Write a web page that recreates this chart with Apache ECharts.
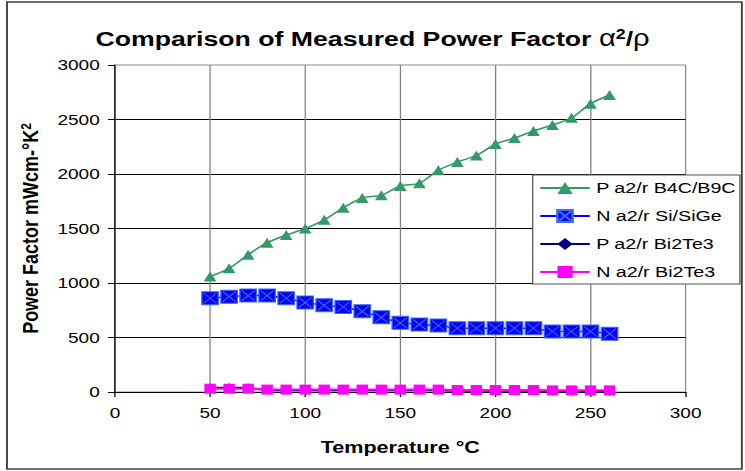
<!DOCTYPE html>
<html>
<head>
<meta charset="utf-8">
<script src="https://cdn.jsdelivr.net/npm/echarts@6/dist/echarts.min.js"></script>
<style>
  html, body { margin: 0; padding: 0; background: #fff; overflow: hidden; }
  /* the source picture is an Excel chart stretched sideways, so draw narrow and stretch */
  #power { width: 587px; height: 471px; transform: scaleX(1.2692); transform-origin: 0 0; }
</style>
</head>
<body>
<div id="power"></div>
<script>
// temperatures in °C
const temps = [50, 60, 70, 80, 90, 100, 110, 120, 130, 140, 150, 160, 170, 180, 190, 200, 210, 220, 230, 240, 250, 260]
// power factor, mW/cm-K^2
const pB4C = [1060, 1135, 1260, 1370, 1440, 1500, 1580, 1690, 1780, 1805, 1890, 1915, 2035, 2110, 2170, 2275, 2330, 2395, 2450, 2515, 2645, 2725]
const nSiGe = [860, 875, 885, 885, 860, 820, 795, 780, 740, 685, 635, 620, 610, 585, 585, 585, 585, 585, 555, 555, 555, 535]
const pBi2Te3 = [40, 40, 40, 15, 15, 15, 15, 15, 15, 15, 15, 15, 15, 12, 12, 12, 12, 12, 8, 8, 8, 8]
const nBi2Te3 = [30, 30, 30, 22, 22, 22, 22, 22, 22, 22, 22, 22, 22, 18, 18, 18, 18, 18, 15, 15, 15, 15]
const names = ['P a2/r B4C/B9C', 'N a2/r Si/SiGe', 'P a2/r Bi2Te3', 'N a2/r Bi2Te3']
const xTicks = [0, 300, 50]
const yTicks = [0, 3000, 500]

const font = 'Liberation Sans, Arial, sans-serif'

function pairs (vals) {
  return temps.map((t, i) => [t, vals[i]])
}

const myChart = echarts.init(document.getElementById('power'), null, { renderer: 'svg' })

const option = {
  animation: false,
  backgroundColor: '#fff',
  title: {
    left: 'center',
    top: 22,
    text: 'Comparison of Measured Power Factor {g|α}{s|2}{b|/}{g|ρ}',
    textStyle: {
      fontFamily: font,
      fontSize: 21,
      fontWeight: 'bold',
      color: '#000',
      rich: {
        g: { fontFamily: font, fontSize: 23, fontWeight: 'normal', color: '#000' },
        b: { fontFamily: font, fontSize: 21, fontWeight: 'bold', color: '#000' },
        s: { fontFamily: font, fontSize: 14, fontWeight: 'bold', color: '#000', verticalAlign: 'top' }
      }
    }
  },
  legend: {
    orient: 'vertical',
    left: 419.7,
    top: 175,
    itemWidth: 39,
    itemHeight: 15,
    itemGap: 12,
    padding: [5, 3, 4, 5],
    backgroundColor: '#fff',
    borderColor: '#555',
    borderWidth: 1,
    textStyle: { fontFamily: font, fontSize: 15.5, color: '#000' },
    data: names
  },
  grid: {
    left: 90.6,
    right: 46.8,
    top: 65,
    bottom: 79,
    show: true,
    borderColor: '#8c8c8c',
    borderWidth: 1
  },
  xAxis: {
    type: 'value',
    min: xTicks[0],
    max: xTicks[1],
    interval: xTicks[2],
    name: 'Temperature °C',
    nameLocation: 'middle',
    nameGap: 46,
    nameTextStyle: { fontFamily: font, fontSize: 17, fontWeight: 'bold', color: '#000' },
    axisLine: { show: true, onZero: false, lineStyle: { color: '#000', width: 1 } },
    axisTick: { show: true, length: 5, lineStyle: { color: '#000' } },
    axisLabel: { fontFamily: font, fontSize: 15, color: '#000', margin: 13 },
    splitLine: { show: true, showMinLine: false, showMaxLine: false, lineStyle: { color: '#808080', width: 1 } }
  },
  yAxis: {
    type: 'value',
    min: yTicks[0],
    max: yTicks[1],
    interval: yTicks[2],
    name: 'Power Factor mWcm-°K{s|2}',
    nameLocation: 'middle',
    nameRotate: 90,
    nameGap: 58,
    nameTextStyle: {
      fontFamily: font,
      fontSize: 18,
      fontWeight: 'bold',
      color: '#000',
      rich: {
        s: { fontFamily: font, fontSize: 12, fontWeight: 'bold', color: '#000', verticalAlign: 'top' }
      }
    },
    axisLine: { show: true, lineStyle: { color: '#000', width: 1 } },
    axisTick: { show: true, length: 5.5, lineStyle: { color: '#000' } },
    axisLabel: {
      fontFamily: font,
      fontSize: 15,
      color: '#000',
      margin: 12,
      formatter: (v) => String(v)
    },
    splitLine: { show: true, showMinLine: false, showMaxLine: false, lineStyle: { color: '#000', width: 1 } }
  },
  graphic: [
    {
      type: 'rect',
      silent: true,
      shape: { x: 5.5, y: 2, width: 579, height: 467 },
      style: { fill: 'none', stroke: '#404040', lineWidth: 1.5 }
    }
  ],
  series: [
    {
      name: names[0],
      type: 'line',
      data: pairs(pB4C),
      smooth: 0.3,
      symbol: 'triangle',
      symbolSize: [10, 10],
      itemStyle: { color: '#339966' },
      lineStyle: { color: '#339966', width: 1.5 }
    },
    {
      name: names[1],
      type: 'line',
      data: pairs(nSiGe),
      symbol: 'path://M0,0H13V13H0Z M1.5,1.5L11.5,11.5 M11.5,1.5L1.5,11.5',
      symbolSize: 13,
      itemStyle: { color: '#0000ff', borderColor: '#3d6bff', borderWidth: 1 },
      lineStyle: { color: '#0000ff', width: 1.5 }
    },
    {
      name: names[2],
      type: 'line',
      data: pairs(pBi2Te3),
      symbol: 'diamond',
      symbolSize: [7, 9],
      itemStyle: { color: '#000080' },
      lineStyle: { color: '#000080', width: 2 }
    },
    {
      name: names[3],
      type: 'line',
      data: pairs(nBi2Te3),
      symbol: 'rect',
      symbolSize: [9, 10],
      itemStyle: { color: '#ff00ff' },
      lineStyle: { color: '#ff00ff', width: 2 }
    }
  ]
}

myChart.setOption(option)
</script>
</body>
</html>
